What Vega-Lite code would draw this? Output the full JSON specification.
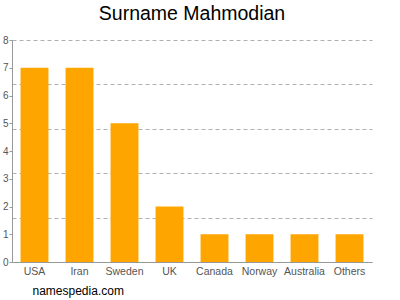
{
  "$schema": "https://vega.github.io/schema/vega-lite/v6.json",
  "width": 360,
  "height": 222,
  "autosize": "none",
  "padding": {"left": 12, "top": 40, "right": 28, "bottom": 38},
  "background": "white",
  "title": {"text": "Surname Mahmodian", "font": "Liberation Sans", "fontSize": 19.5, "fontWeight": "normal", "color": "#000", "anchor": "middle", "offset": 11},
  "data": {"values": [
    {"country": "USA", "count": 7},
    {"country": "Iran", "count": 7},
    {"country": "Sweden", "count": 5},
    {"country": "UK", "count": 2},
    {"country": "Canada", "count": 1},
    {"country": "Norway", "count": 1},
    {"country": "Australia", "count": 1},
    {"country": "Others", "count": 1}
  ]},
  "config": {"view": {"stroke": null}, "font": "Liberation Sans"},
  "layer": [
    {
      "mark": {"type": "bar", "color": "#FFA500"},
      "encoding": {
        "x": {"field": "country", "type": "nominal", "sort": null,
          "scale": {"paddingInner": 0.38, "paddingOuter": 0.19},
          "axis": {"labelAngle": 0, "labelColor": "#555", "labelFontSize": 10.5, "labelPadding": 4, "ticks": false, "domainColor": "#999", "title": "namespedia.com", "titleFont": "Liberation Sans", "titleFontSize": 12, "titleFontWeight": "normal", "titleColor": "#000", "titleAlign": "left", "titleAnchor": "start", "titleX": 20, "titleY": 35, "titleBaseline": "bottom"}},
        "y": {"field": "count", "type": "quantitative",
          "scale": {"domain": [0, 8], "nice": false},
          "axis": {"values": [0, 1, 2, 3, 4, 5, 6, 7, 8], "grid": false, "title": null, "labelColor": "#555", "labelFontSize": 10, "tickSize": 3, "tickColor": "#999", "domainColor": "#999", "labelPadding": 1}}
      }
    },
    {
      "mark": {"type": "bar", "opacity": 0},
      "encoding": {
        "x": {"field": "country", "type": "nominal", "sort": null},
        "y": {"field": "count", "type": "quantitative",
          "axis": {"orient": "left", "values": [0, 1.6, 3.2, 4.8, 6.4, 8], "grid": true, "gridDash": [4, 3], "gridColor": "#b0b0b0", "labels": false, "ticks": false, "domain": false, "title": null}}
      }
    }
  ],
  "resolve": {"axis": {"y": "independent"}}
}
